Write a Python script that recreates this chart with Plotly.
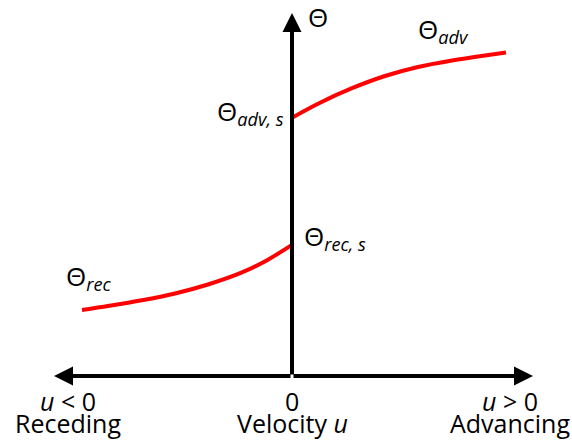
import plotly.graph_objects as go

# Contact angle vs. contact-line velocity (schematic)
# Advancing branch (u > 0)
u_adv = [0.0, 0.13, 0.30, 0.465, 0.63, 0.80, 0.965, 1.07]
theta_adv = [0.717, 0.756, 0.799, 0.833, 0.858, 0.876, 0.890, 0.898]

# Receding branch (u < 0)
u_rec = [-1.05, -0.92, -0.75, -0.585, -0.42, -0.25, -0.12, 0.0]
theta_rec = [0.183, 0.194, 0.210, 0.229, 0.254, 0.2875, 0.323, 0.364]

# Axis extents (arrow tips)
u_left, u_right, theta_top = -1.19, 1.205, 1.008

FONT = "Open Sans"
RED = "#ff0000"

fig = go.Figure()
fig.add_trace(go.Scatter(x=u_adv, y=theta_adv, mode="lines",
                         line=dict(color=RED, width=4, shape="spline", smoothing=0.8),
                         hoverinfo="skip", showlegend=False))
fig.add_trace(go.Scatter(x=u_rec, y=theta_rec, mode="lines",
                         line=dict(color=RED, width=4, shape="spline", smoothing=0.8),
                         hoverinfo="skip", showlegend=False))

def axis_arrow(x, y):
    return dict(x=x, y=y, ax=0, ay=0, xref="x", yref="y", axref="x", ayref="y",
                text="", showarrow=True, arrowhead=2, arrowsize=0.95,
                arrowwidth=4, arrowcolor="black")

def label(x, y, text, size=26, xanchor="center", yanchor="middle"):
    return dict(x=x, y=y, xref="x", yref="y", text=text, showarrow=False,
                xanchor=xanchor, yanchor=yanchor,
                font=dict(family=FONT, size=size, color="black"))

annotations = [
    axis_arrow(u_left, 0),
    axis_arrow(u_right, 0),
    axis_arrow(0, theta_top),
    label(0.07, 0.997, "Θ", xanchor="left"),
    label(0.62, 0.96, "Θ<sub><i>adv</i></sub>", xanchor="left"),
    label(-0.03, 0.733, "Θ<sub><i>adv, s</i></sub>", xanchor="right"),
    label(0.05, 0.385, "Θ<sub><i>rec, s</i></sub>", xanchor="left"),
    label(-1.14, 0.275, "Θ<sub><i>rec</i></sub>", xanchor="left"),
    label(-1.12, -0.07, "<i>u</i> < 0", size=25),
    label(-1.12, -0.13, "Receding", size=25),
    label(0.0, -0.07, "0", size=25),
    label(0.0, -0.13, "Velocity <i>u</i>", size=25),
    label(1.09, -0.07, "<i>u</i> > 0", size=25),
    label(1.09, -0.13, "Advancing", size=25),
]

fig.update_layout(
    width=572, height=444,
    margin=dict(l=0, r=0, t=0, b=0),
    paper_bgcolor="white", plot_bgcolor="white",
    xaxis=dict(range=[-1.46, 1.40], visible=False, fixedrange=True),
    yaxis=dict(range=[-0.189, 1.044], visible=False, fixedrange=True),
    annotations=annotations,
    showlegend=False,
)

fig.write_html("out.html", config={"displayModeBar": False})
